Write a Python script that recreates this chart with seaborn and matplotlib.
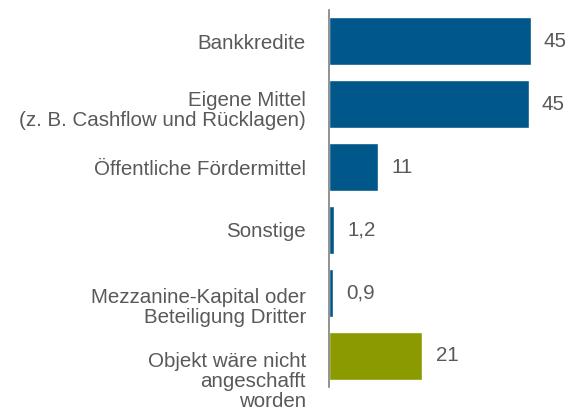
import pandas as pd
import seaborn as sns
import matplotlib.pyplot as plt
from matplotlib.transforms import ScaledTranslation

categories = ['Bankkredite',
              'Eigene Mittel\n(z. B. Cashflow und Rücklagen)',
              'Öffentliche Fördermittel',
              'Sonstige',
              'Mezzanine-Kapital oder\nBeteiligung Dritter',
              'Objekt wäre nicht\nangeschafft\nworden']
values = [45.3, 44.9, 11, 1.2, 0.9, 21]
value_labels = ['45', '45', '11', '1,2', '0,9', '21']
bar_colors = ['#00578a', '#00578a', '#00578a', '#00578a', '#00578a', '#8a9a00']

df = pd.DataFrame({'cat': categories, 'val': values})

sns.set_theme(style="white")
plt.rcParams['font.family'] = ['Liberation Sans', 'DejaVu Sans']
grey = '#595959'

fig = plt.figure(figsize=(5.75, 4.11), dpi=100)
ax = fig.add_axes([0.572, 0.058, 0.408, 0.918])

sns.barplot(data=df, y='cat', x='val', hue='cat', palette=bar_colors,
            legend=False, width=0.76, ax=ax, saturation=1)

for p, lab in zip(ax.patches, value_labels):
    ax.annotate(lab, (p.get_x() + p.get_width(), p.get_y() + p.get_height() / 2),
                xytext=(9.5, 0), textcoords='offset points',
                ha='left', va='center', fontsize=14.8, color=grey)

ax.set_xlim(0, 52.7)
ax.set_ylim(5.5, -0.5)
ax.set_xlabel('')
ax.set_ylabel('')
ax.set_xticks([])
ax.tick_params(axis='y', length=0, pad=16.5, labelsize=14.8, labelcolor=grey)
for t in ax.get_yticklabels():
    t.set_horizontalalignment('right')
    t.set_linespacing(1.05)
for s in ['top', 'right', 'bottom']:
    ax.spines[s].set_visible(False)
ax.spines['left'].set_color('#7f7f7f')
ax.spines['left'].set_linewidth(1.2)

# multi-line labels at the bottom sit a bit lower in the original
shifts = [0, -3, 0, 0, -9, -17]
for t, s in zip(ax.get_yticklabels(), shifts):
    t.set_transform(t.get_transform() + ScaledTranslation(0, s / 72, fig.dpi_scale_trans))

plt.savefig('out.png', dpi=100)
